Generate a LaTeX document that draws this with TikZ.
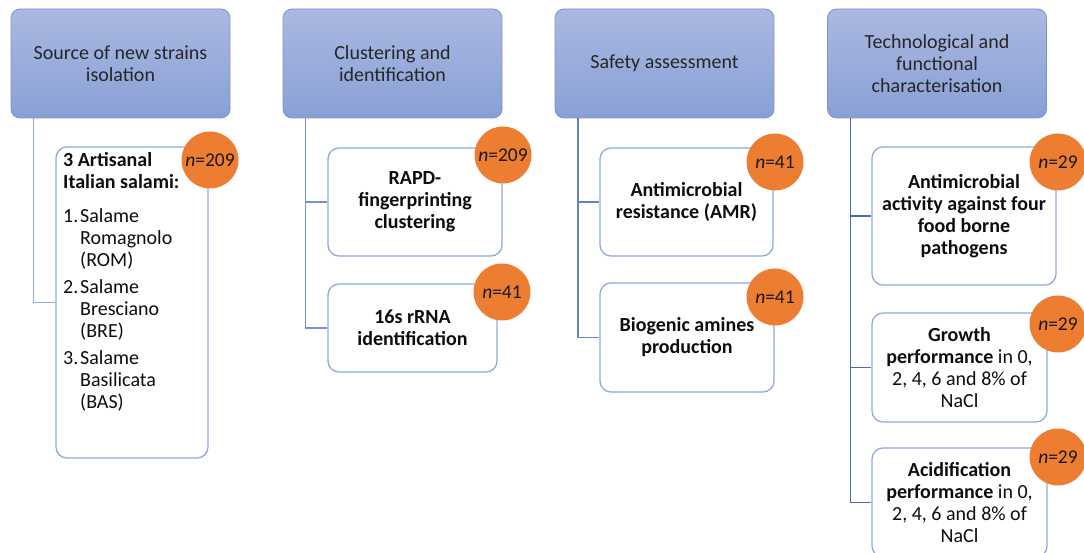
\documentclass[tikz,border=0pt]{standalone}
\usepackage{fontspec}
\setmainfont{Carlito}

\definecolor{hdtop}{HTML}{AAB9E1}
\definecolor{hdbot}{HTML}{899FD5}
\definecolor{hdline}{HTML}{7F93C2}
\definecolor{boxline}{HTML}{8FAADC}
\definecolor{badge}{HTML}{ED7D31}
\definecolor{txt}{HTML}{262626}
\definecolor{lnone}{HTML}{8EAADB}
\definecolor{lntwo}{HTML}{7591CF}
\definecolor{lnthree}{HTML}{6383C6}
\definecolor{lnfour}{HTML}{4A6AB3}

\tikzset{
  header/.style={rectangle, rounded corners=9pt, top color=hdtop, bottom color=hdbot,
    draw=hdline, line width=0.8pt, minimum width=219pt, minimum height=109pt,
    align=center, text=txt, font=\fontsize{20}{22}\selectfont},
  task/.style={rectangle, rounded corners=11pt, draw=boxline, line width=1.3pt, fill=white,
    align=center, inner sep=0pt, text=black!95, font=\fontsize{20}{22}\selectfont\bfseries},
  count/.style={circle, fill=badge, minimum size=57pt, inner sep=0pt, text=black!90,
    font=\fontsize{19.5}{22}\selectfont},
  link/.style={line width=1.6pt}
}

\begin{document}
\begin{tikzpicture}[x=1pt,y=-1pt]
        % \draw[help lines] (0,0) grid (1084,553);
        \useasboundingbox (0,0) rectangle (1084,553);

        \node[header] at (120.5,63.5) (hd1) {Source of new strains\\isolation};
        \node[header] at (392.5,63.5) (hd2) {Clustering and\\identification};
        \node[header] at (664.5,63.5) (hd3) {Safety assessment};
        \node[header] at (937,63.5) (hd4) {Technological and\\functional\\characterisation};

        \node[task, minimum width=152pt, minimum height=311pt] at (132,302.5) (src) {};
        \node[anchor=north west, align=left, inner sep=0pt, text=black!95,
          font=\fontsize{20}{22}\selectfont] at (63,152) (srctxt)
          {\textbf{3 Artisanal}\\
           \textbf{Italian salami:}\\[12pt]
           \makebox[17pt][l]{1.}Salame\\
           \hspace*{17pt}Romagnolo\\
           \hspace*{17pt}(ROM)\\[5pt]
           \makebox[17pt][l]{2.}Salame\\
           \hspace*{17pt}Bresciano\\
           \hspace*{17pt}(BRE)\\[5pt]
           \makebox[17pt][l]{3.}Salame\\
           \hspace*{17pt}Basilicata\\
           \hspace*{17pt}(BAS)};

        \node[task, minimum width=174pt, minimum height=108pt] at (415,202) (rapd) {RAPD-\\fingerprinting\\clustering};
        \node[task, minimum width=169pt, minimum height=88pt] at (412.5,328) (rrna) {16s rRNA\\identification};

        \node[task, minimum width=173pt, minimum height=108pt] at (686.5,202) (amr) {Antimicrobial\\resistance (AMR)};
        \node[task, minimum width=174pt, minimum height=109pt] at (687,337.5) (bio) {Biogenic amines\\production};

        \node[task, minimum width=184pt, minimum height=138pt] at (964,216) (anti) {Antimicrobial\\activity against four\\food borne\\pathogens};
        \node[task, minimum width=175pt, minimum height=109pt] at (959.5,367.5) (grow) {Growth\\performance {\mdseries in 0,}\\{\mdseries 2, 4, 6 and 8\% of}\\{\mdseries NaCl}};
        \node[task, minimum width=175pt, minimum height=109pt] at (959.5,502.5) (acid) {Acidification\\performance {\mdseries in 0,}\\{\mdseries 2, 4, 6 and 8\% of}\\{\mdseries NaCl}};

        \node[count] at (210,160) (n1) {\textit{n}=209};
        \node[count] at (503,155) (n2) {\textit{n}=209};
        \node[count] at (502,292) (n3) {\textit{n}=41};
        \node[count] at (775,162) (n4) {\textit{n}=41};
        \node[count] at (775,297) (n5) {\textit{n}=41};
        \node[count] at (1058,162) (n6) {\textit{n}=29};
        \node[count] at (1058,324) (n7) {\textit{n}=29};
        \node[count] at (1058,457) (n8) {\textit{n}=29};

        \draw[link, lnone] ([xshift=23pt]hd1.south west) |- (src);

        \draw[link, lntwo] ([xshift=23pt]hd2.south west) |- (rapd);
        \draw[link, lntwo] ([xshift=23pt]hd2.south west) |- (rrna);

        \draw[link, lnthree] ([xshift=23.5pt]hd3.south west) |- (amr);
        \draw[link, lnthree] ([xshift=23.5pt]hd3.south west) |- (bio);

        \draw[link, lnfour] ([xshift=23.5pt]hd4.south west) |- (anti);
        \draw[link, lnfour] ([xshift=23.5pt]hd4.south west) |- (grow);
        \draw[link, lnfour] ([xshift=23.5pt]hd4.south west) |- (acid);
    \end{tikzpicture}
\end{document}
